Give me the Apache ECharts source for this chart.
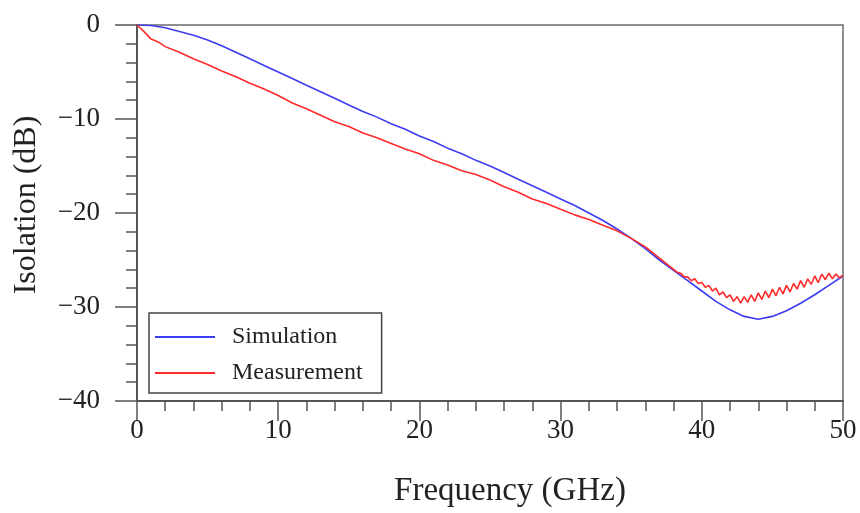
<!DOCTYPE html>
<html>
<head>
    <meta charset="UTF-8">
    <title>Isolation</title>
    <script src="https://cdn.jsdelivr.net/npm/echarts@6/dist/echarts.min.js"></script>
    <style>
        html, body { margin: 0; padding: 0; background: #fff; }
        #chart { width: 860px; height: 513px; }
    </style>
</head>
<body>
<div id="chart"></div>
<script>
    // simulated isolation, 1 GHz steps
    const simFreq = [0, 1, 2, 3, 4, 5, 6, 7, 8, 9, 10, 11, 12, 13, 14, 15, 16, 17, 18, 19, 20,
        21, 22, 23, 24, 25, 26, 27, 28, 29, 30, 31, 32, 33, 34, 35, 36, 37, 38, 39, 40,
        41, 42, 43, 44, 45, 46, 47, 48, 49, 50];
    const simDb = [0, -0.05, -0.3, -0.7, -1.1, -1.6, -2.2, -2.9, -3.6, -4.3, -5.0,
        -5.7, -6.4, -7.1, -7.8, -8.5, -9.2, -9.8, -10.5, -11.1, -11.8,
        -12.4, -13.1, -13.7, -14.4, -15.0, -15.7, -16.4, -17.1, -17.8, -18.5,
        -19.2, -20.0, -20.8, -21.7, -22.7, -23.8, -25.0, -26.1, -27.2, -28.3,
        -29.4, -30.3, -31.0, -31.3, -31.0, -30.4, -29.6, -28.7, -27.7, -26.7];

    const measFreq = [0, 0.5, 1, 1.5, 2, 3, 4, 5, 6, 7, 8, 9, 10, 11, 12, 13, 14, 15, 16, 17, 18, 19, 20,
        21, 22, 23, 24, 25, 26, 27, 28, 29, 30, 31, 32, 33, 34, 35, 36, 37,
        38, 38.25, 38.5, 38.75, 39, 39.25, 39.5, 39.75, 40, 40.25, 40.5, 40.75,
        41, 41.25, 41.5, 41.75, 42, 42.25, 42.5, 42.75, 43, 43.25, 43.5, 43.75,
        44, 44.25, 44.5, 44.75, 45, 45.25, 45.5, 45.75, 46, 46.25, 46.5, 46.75,
        47, 47.25, 47.5, 47.75, 48, 48.25, 48.5, 48.75, 49, 49.25, 49.5, 49.75, 50];
    const measDb = [0, -0.7, -1.5, -1.8, -2.3, -2.9, -3.6, -4.2, -4.9, -5.5, -6.2, -6.8, -7.5,
        -8.3, -8.9, -9.6, -10.3, -10.8, -11.5, -12.0, -12.6, -13.2, -13.7,
        -14.4, -14.9, -15.5, -15.9, -16.5, -17.2, -17.8, -18.5, -19.0, -19.6,
        -20.2, -20.7, -21.3, -21.9, -22.7, -23.6, -24.8,
        -26.0, -26.3, -26.4, -26.8, -26.8, -27.2, -27.0, -27.5, -27.4, -27.9, -27.7, -28.3,
        -28.0, -28.7, -28.4, -29.0, -28.7, -29.4, -28.9, -29.6, -28.9, -29.5, -28.7, -29.4,
        -28.5, -29.2, -28.3, -29.0, -28.1, -28.8, -27.9, -28.6, -27.7, -28.4, -27.5, -28.1,
        -27.2, -27.9, -27.0, -27.6, -26.7, -27.4, -26.5, -27.1, -26.4, -27.0, -26.5, -26.9, -26.6];

    const seriesNames = ['Simulation', 'Measurement'];

    function pairs(xs, ys) {
        return xs.map(function (x, i) { return [x, ys[i]]; });
    }

    const serif = '"Liberation Serif", "DejaVu Serif", serif';

    let chart = echarts.init(document.getElementById('chart'), null, {renderer: 'canvas'});
    chart.setOption({
        animation: false,
        backgroundColor: '#fff',
        grid: {
            left: 137, right: 17, top: 25, bottom: 108,
            show: true, borderColor: '#6a6a6a', borderWidth: 1.5
        },
        legend: {
            left: 149, top: 313,
            orient: 'vertical',
            data: seriesNames,
            icon: 'rect',
            itemWidth: 60, itemHeight: 2,
            itemGap: 12,
            padding: [12, 19, 8, 6],
            borderColor: '#444', borderWidth: 1.5,
            backgroundColor: '#fff',
            textStyle: {fontFamily: serif, fontSize: 24, lineHeight: 24, color: '#222', padding: [0, 0, 0, 12]}
        },
        xAxis: {
            type: 'value', min: 0, max: 50, interval: 10,
            name: 'Frequency (GHz)', nameLocation: 'middle', nameGap: 74,
            nameTextStyle: {fontFamily: serif, fontSize: 33, color: '#222', padding: [0, 0, 0, 40]},
            axisLine: {onZero: false, lineStyle: {color: '#555', width: 2}},
            axisTick: {show: true, length: 20, lineStyle: {color: '#555', width: 1.5}},
            minorTick: {show: true, splitNumber: 5, length: 10, lineStyle: {color: '#555', width: 1.5}},
            axisLabel: {fontFamily: serif, fontSize: 27, color: '#222', margin: 16},
            splitLine: {show: false}
        },
        yAxis: {
            type: 'value', min: -40, max: 0, interval: 10,
            name: 'Isolation (dB)', nameLocation: 'middle', nameGap: 94, nameRotate: 90,
            nameTextStyle: {fontFamily: serif, fontSize: 32, color: '#222', padding: [0, 0, 0, 16]},
            axisLine: {onZero: false, lineStyle: {color: '#555', width: 2}},
            axisTick: {show: true, length: 22, lineStyle: {color: '#555', width: 1.5}},
            minorTick: {show: true, splitNumber: 5, length: 11, lineStyle: {color: '#555', width: 1.5}},
            axisLabel: {
                fontFamily: serif, fontSize: 27, color: '#222', margin: 37,
                formatter: function (v) { return String(v).replace('-', '\u2212'); }
            },
            splitLine: {show: false}
        },
        series: [
            {
                name: seriesNames[0], type: 'line', showSymbol: false,
                data: pairs(simFreq, simDb),
                itemStyle: {color: '#3c3cf2'},
                lineStyle: {color: '#3c3cf2', width: 1.6}
            },
            {
                name: seriesNames[1], type: 'line', showSymbol: false,
                data: pairs(measFreq, measDb),
                itemStyle: {color: '#ff2b2b'},
                lineStyle: {color: '#ff2b2b', width: 1.6}
            }
        ]
    });
</script>
</body>
</html>
